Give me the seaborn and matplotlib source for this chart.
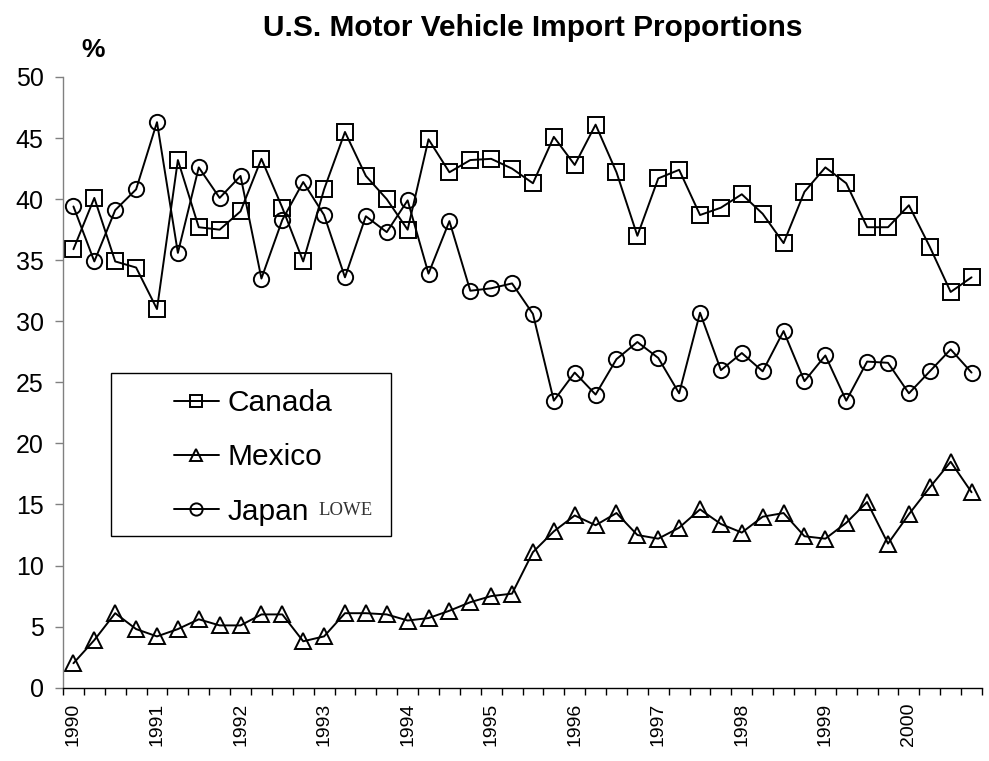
import matplotlib.pyplot as plt
import matplotlib.patches as mpatches
from matplotlib.ticker import FixedLocator
import numpy as np
import pandas as pd
import seaborn as sns


# quarterly shares of U.S. motor vehicle imports, 1990 Q1 - 2000 Q4
years = [str(y) for y in range(1990, 2001)]
countries = ['Canada', 'Mexico', 'Japan']

canada = [35.9, 40.1, 34.9, 34.4, 31.0, 43.2, 37.7, 37.5, 39.0, 43.3, 39.3,
          34.9, 40.8, 45.5, 41.9, 40.0, 37.5, 44.9, 42.2, 43.2, 43.3, 42.5,
          41.3, 45.1, 42.8, 46.1, 42.2, 37.0, 41.7, 42.4, 38.7, 39.3, 40.4,
          38.8, 36.4, 40.6, 42.6, 41.3, 37.7, 37.7, 39.5, 36.1, 32.4, 33.6]
mexico = [2.0, 3.9, 6.1, 4.8, 4.2, 4.8, 5.6, 5.1, 5.1, 6.0, 6.0,
          3.8, 4.2, 6.1, 6.1, 6.0, 5.5, 5.7, 6.3, 7.0, 7.5, 7.7,
          11.1, 12.8, 14.1, 13.3, 14.3, 12.5, 12.2, 13.1, 14.6, 13.4, 12.7,
          14.0, 14.3, 12.4, 12.2, 13.5, 15.2, 11.8, 14.2, 16.4, 18.5, 16.0]
japan = [39.4, 34.9, 39.1, 40.8, 46.3, 35.6, 42.6, 40.1, 41.9, 33.5, 38.3,
         41.4, 38.7, 33.6, 38.6, 37.3, 39.9, 33.9, 38.2, 32.5, 32.7, 33.1,
         30.6, 23.5, 25.8, 24.0, 26.9, 28.3, 27.0, 24.1, 30.7, 26.0, 27.4,
         25.9, 29.2, 25.1, 27.2, 23.5, 26.7, 26.6, 24.1, 25.9, 27.7, 25.8]

n_q = len(canada)
df = pd.DataFrame({
    'quarter': np.tile(np.arange(n_q), 3),
    'value': canada + mexico + japan,
    'country': np.repeat(countries, n_q),
})

sns.set_theme(style='white')
plt.rcParams['font.family'] = ['Liberation Sans', 'DejaVu Sans']
plt.rcParams['text.color'] = 'black'

W, H = 989, 761
fig = plt.figure(figsize=(W / 100, H / 100), dpi=100)
# plot area in pixels: x 63..982, y 77..688
ax = fig.add_axes([63 / W, (H - 687.7) / H, 919 / W, 610.7 / H])

sns.lineplot(data=df, x='quarter', y='value', style='country',
             style_order=countries,
             markers={'Canada': 's', 'Mexico': '^', 'Japan': 'o'},
             dashes=False, color='black', linewidth=1.4,
             markersize=11, markerfacecolor='none',
             markeredgecolor='black', markeredgewidth=1.4,
             errorbar=None, legend=False, sort=False, ax=ax)

ax.set_xlim(-0.5, n_q - 0.5)
ax.set_ylim(0, 50)
ax.set_xlabel('')
ax.set_ylabel('')

# y axis
ax.set_yticks(np.arange(0, 51, 5))
ax.tick_params(axis='y', which='major', left=True, length=6, width=1,
               color='#808080', pad=8, labelsize=18, labelcolor='black')

# x axis: year labels on first quarter, tick marks between categories
ax.xaxis.set_major_locator(FixedLocator(np.arange(0, n_q, 4)))
ax.set_xticklabels(years, rotation=90)
ax.xaxis.set_minor_locator(FixedLocator(np.arange(-0.5, n_q, 1)))
ax.tick_params(axis='x', which='major', bottom=True, length=0, pad=11,
               labelsize=14, labelcolor='black')
ax.tick_params(axis='x', which='minor', bottom=True, length=5, width=1,
               color='black')

for side in ['top', 'right']:
    ax.spines[side].set_visible(False)
ax.spines['left'].set_color('#808080')
ax.spines['left'].set_linewidth(1)
ax.spines['bottom'].set_color('black')
ax.spines['bottom'].set_linewidth(1)

# legend: box drawn separately, entries from the seaborn lines
box = mpatches.Rectangle((0.0522, 0.248), 0.3048, 0.267, transform=ax.transAxes,
                         facecolor='white', edgecolor='black', linewidth=1,
                         zorder=5)
ax.add_patch(box)
leg = ax.legend(ax.get_lines()[:3], countries, loc='upper left',
                bbox_to_anchor=(0.1208, 0.489), frameon=False, fontsize=21.5,
                markerscale=0.8, handlelength=1.5, handletextpad=0.3,
                borderpad=0, borderaxespad=0, labelspacing=0.88)
leg.set_zorder(6)
ax.text(0.307, 0.29, 'LOWE', transform=ax.transAxes, ha='center',
        va='center', fontsize=13.5, family=['Liberation Serif', 'DejaVu Serif'],
        color='#333333', zorder=7)

fig.text(533 / W, 1 - 28 / H, 'U.S. Motor Vehicle Import Proportions',
         ha='center', va='center', fontsize=21.5, fontweight='bold')
fig.text(93 / W, 1 - 50 / H, '%', ha='center', va='center', fontsize=19,
         fontweight='bold')

fig.savefig('out.png', dpi=100, facecolor='white')
